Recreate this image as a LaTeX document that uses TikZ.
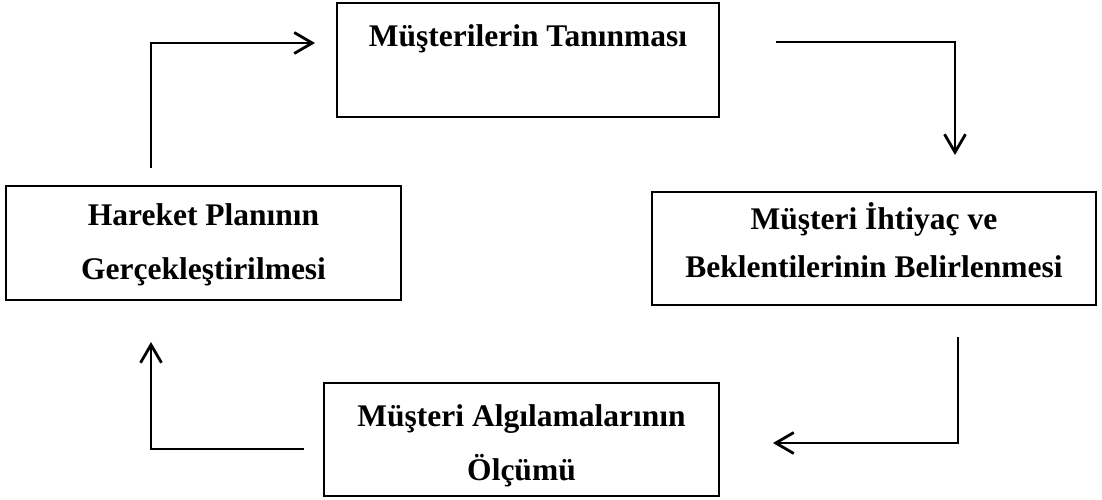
\documentclass[tikz,border=0pt]{standalone}
\usepackage{fontspec}
\setmainfont{Liberation Serif}
\usetikzlibrary{arrows.meta,calc}
\begin{document}
\begin{tikzpicture}[x=1pt,y=-1pt,
  box/.style={draw,line width=2.8pt,rectangle,inner sep=0pt},
  txt/.style={align=center,inner sep=0pt,font=\fontsize{31.5}{#1}\selectfont\bfseries},
  conn/.style={line width=2.8pt,-{Straight Barb[length=18pt,width=21pt,line width=2.8pt]}}]
\useasboundingbox (0,0) rectangle (1102,499);
\node[box,minimum width=382pt,minimum height=114pt] (top) at (528,60) {};
\node[box,minimum width=444pt,minimum height=113pt] (right) at (874,248.5) {};
\node[box,minimum width=395pt,minimum height=114pt] (left) at (203.5,243) {};
\node[box,minimum width=395pt,minimum height=113pt] (bottom) at (521.5,439.5) {};
\node[txt=45pt,anchor=base] (topT) at ($(top.north)+(0,45)$) {Müşterilerin Tanınması};
\node[txt=48pt,anchor=base] (rightT) at ($(right.north)+(0,87)$) {Müşteri İhtiyaç ve\\Beklentilerinin Belirlenmesi};
\node[txt=54pt,anchor=base] (leftT) at ($(left.north)+(0,95)$) {Hareket Planının\\Gerçekleştirilmesi};
\node[txt=54pt,anchor=base] (bottomT) at ($(bottom.north)+(0,99)$) {Müşteri Algılamalarının\\Ölçümü};
\coordinate (a1s) at (151,168);
\coordinate (a1e) at (315,43);
\coordinate (a2s) at (776,42);
\coordinate (a2e) at (955,155);
\coordinate (a3s) at (958,337);
\coordinate (a3e) at (773,443);
\coordinate (a4s) at (304,449);
\coordinate (a4e) at (151,342);
\draw[conn] (a1s) |- (a1e);
\draw[conn] (a2s) -| (a2e);
\draw[conn] (a3s) |- (a3e);
\draw[conn] (a4s) -| (a4e);
\end{tikzpicture}
\end{document}
